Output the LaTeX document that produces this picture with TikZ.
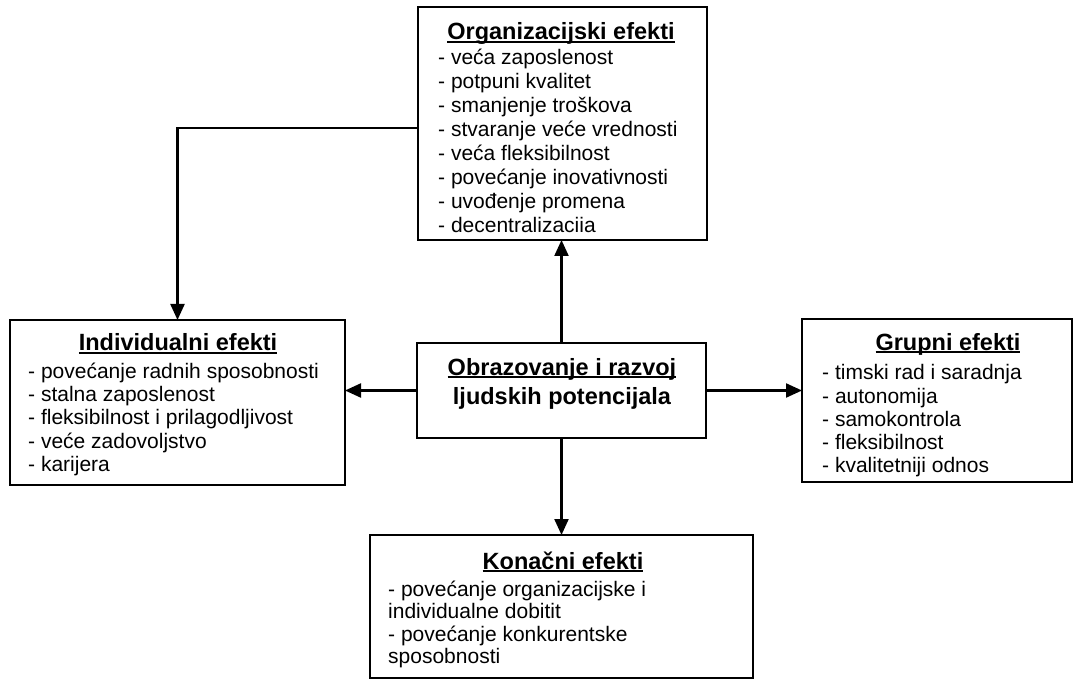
\documentclass[tikz,border=0pt]{standalone}
\usepackage{fontspec}
\setmainfont{Liberation Sans}
\usetikzlibrary{arrows.meta}
\newcommand\myul[1]{\setbox0\hbox{#1}\rlap{\rule[-3pt]{\wd0}{1.8pt}}\box0}
\tikzset{
  boxnode/.style={draw, line width=2.2pt, anchor=north west, inner sep=0pt, outer sep=0pt},
  ttl/.style={anchor=base, inner sep=0pt, font=\fontsize{23.5}{26}\selectfont\bfseries},
  itm/.style={anchor=base west, inner sep=0pt, font=\fontsize{21}{24}\selectfont},
  conn/.style={line width=2.2pt, -{Triangle[length=16pt,width=14pt]}}
}
\begin{document}
\begin{tikzpicture}[x=1pt,y=-1pt]
\useasboundingbox (0,0) rectangle (1080,679);
% boxes
\node[boxnode, minimum width=289pt, minimum height=233pt] (org) at (418,7) {};
\node[boxnode, minimum width=335pt, minimum height=165pt] (ind) at (10,320) {};
\node[boxnode, minimum width=289pt, minimum height=95pt] (cen) at (417,343) {};
\node[boxnode, minimum width=270pt, minimum height=163pt] (grp) at (802,319) {};
\node[boxnode, minimum width=383pt, minimum height=143pt] (kon) at (370,535) {};
% Organizacijski
\node[ttl] (orgT) at (561,40) {\myul{Organizacijski efekti}};
\foreach \t [count=\i from 0] in {- veća zaposlenost, - potpuni kvalitet, - smanjenje troškova, - stvaranje veće vrednosti, - veća fleksibilnost, - povećanje inovativnosti, - uvođenje promena, - decentralizaciia}
  \node[itm] (orgL\i) at (438,65+24*\i) {\t};
% Individualni
\node[ttl] (indT) at (178,351) {\myul{Individualni efekti}};
\foreach \t [count=\i from 0] in {- povećanje radnih sposobnosti, - stalna zaposlenost, - fleksibilnost i prilagodljivost, - veće zadovoljstvo, - karijera}
  \node[itm] (indL\i) at (28,378+23.4*\i) {\t};
% center
\node[ttl] (cenT1) at (562,375) {\myul{Obrazovanje i razvoj}};
\node[ttl] (cenT2) at (562,404) {ljudskih potencijala};
% Grupni
\node[ttl] (grpT) at (948,350) {\myul{Grupni efekti}};
\foreach \t [count=\i from 0] in {- timski rad i saradnja, - autonomija, - samokontrola, - fleksibilnost, - kvalitetniji odnos}
  \node[itm] (grpL\i) at (822,380+23.2*\i) {\t};
% Konacni
\node[ttl] (konT) at (563,569) {\myul{Konačni efekti}};
\foreach \t [count=\i from 0] in {- povećanje organizacijske i, individualne dobitit, - povećanje konkurentske, sposobnosti}
  \node[itm] (konL\i) at (388,596+22.5*\i) {\t};
% connectors
\draw[conn] (cen.north) -- (cen.north |- org.south);
\draw[conn] (cen.south) -- (cen.south |- kon.north);
\draw[conn] (cen.west) -- (cen.west -| ind.east);
\draw[conn] (cen.east) -- (cen.east -| grp.west);
\coordinate (orgW) at ([yshift=-4.5pt]org.west);
\draw[conn] (orgW) -| (ind.north);
\end{tikzpicture}
\end{document}
